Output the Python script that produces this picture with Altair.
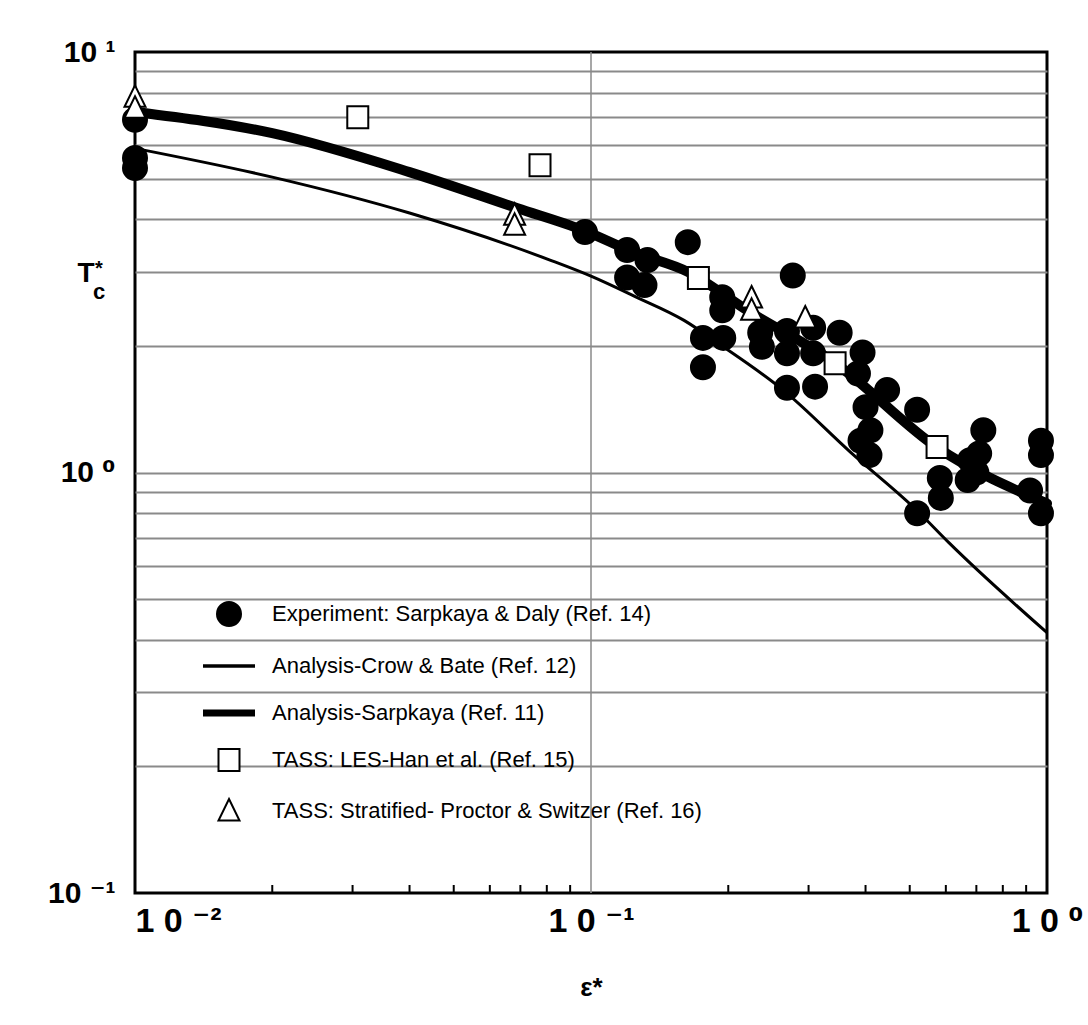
import altair as alt
import pandas as pd

# ---------------- data ----------------
series_names = [
    "Experiment: Sarpkaya & Daly (Ref. 14)",
    "Analysis-Crow & Bate (Ref. 12)",
    "Analysis-Sarpkaya (Ref. 11)",
    "TASS: LES-Han et al. (Ref. 15)",
    "TASS: Stratified- Proctor & Switzer (Ref. 16)",
]

# Experiment: Sarpkaya & Daly (filled circles)
exp_x = [0.01, 0.01, 0.01, 0.097, 0.120, 0.120, 0.131, 0.133, 0.163, 0.277,
         0.194, 0.194, 0.176, 0.195, 0.176, 0.235, 0.237, 0.269, 0.269, 0.269,
         0.307, 0.307, 0.310, 0.351, 0.394, 0.385, 0.446, 0.400, 0.410, 0.390,
         0.408, 0.519, 0.582, 0.585, 0.519, 0.678, 0.670, 0.725, 0.710, 0.700,
         0.970, 0.970, 0.918, 0.970]
exp_y = [5.6, 5.3, 6.9, 3.73, 3.38, 2.91, 2.79, 3.20, 3.53, 2.94,
         2.61, 2.43, 2.09, 2.09, 1.78, 2.15, 1.99, 2.17, 1.92, 1.59,
         2.21, 1.92, 1.60, 2.15, 1.93, 1.72, 1.57, 1.43, 1.26, 1.19,
         1.10, 1.41, 0.97, 0.87, 0.80, 1.07, 0.96, 1.26, 1.11, 1.00,
         1.19, 1.10, 0.906, 0.80]

# TASS: LES-Han et al. (open squares)
les_x = [0.0308, 0.0773, 0.172, 0.343, 0.574]
les_y = [7.0, 5.38, 2.90, 1.82, 1.15]

# TASS: Stratified- Proctor & Switzer (open triangles)
strat_x = [0.01, 0.01, 0.068, 0.068, 0.225, 0.225, 0.295]
strat_y = [7.8, 7.35, 4.09, 3.87, 2.60, 2.43, 2.33]

# Analysis-Crow & Bate (thin line)
crow_x = [0.01, 0.02, 0.04, 0.0813, 0.1, 0.125, 0.16, 0.19, 0.264, 0.37, 0.52, 0.61, 1.0]
crow_y = [5.9, 5.04, 4.14, 3.2, 2.93, 2.62, 2.30, 2.03, 1.57, 1.12, 0.81, 0.68, 0.416]

# Analysis-Sarpkaya (thick line)
sarp_x = [0.01, 0.02, 0.04, 0.069, 0.096, 0.124, 0.163, 0.22, 0.343, 0.574, 1.0]
sarp_y = [7.2, 6.41, 5.18, 4.25, 3.77, 3.34, 3.0, 2.43, 1.82, 1.147, 0.844]

# axis / grid values
x_major = [0.01, 0.1, 1.0]
x_minor = [0.02, 0.03, 0.04, 0.05, 0.06, 0.07, 0.08, 0.09,
           0.2, 0.3, 0.4, 0.5, 0.6, 0.7, 0.8, 0.9]
x_grid = [0.1]
y_grid = [0.1, 0.2, 0.3, 0.4, 0.5, 0.6, 0.7, 0.8, 0.9,
          1.0, 2.0, 3.0, 4.0, 5.0, 6.0, 7.0, 8.0, 9.0, 10.0]

# ---------------- tables ----------------
pts = pd.concat([
    pd.DataFrame({"x": exp_x, "y": exp_y, "series": series_names[0]}),
    pd.DataFrame({"x": les_x, "y": les_y, "series": series_names[3]}),
    pd.DataFrame({"x": strat_x, "y": strat_y, "series": series_names[4]}),
], ignore_index=True)
pts["order"] = range(len(pts))
crow = pd.DataFrame({"x": crow_x, "y": crow_y})
sarp = pd.DataFrame({"x": sarp_x, "y": sarp_y})

# symbol paths (unit coordinates, drawn at size 2500 -> +-25 px)
shape_range = [
    "M-0.48,0A0.48,0.48,0,1,0,0.48,0A0.48,0.48,0,1,0,-0.48,0Z",
    "M-1,-0.03H1V0.03H-1Z",
    "M-1,-0.1H1V0.1H-1Z",
    "M-0.42,-0.44H0.42V0.44H-0.42Z",
    "M0,-0.48L0.42,0.38L-0.42,0.38Z",
]
fill_range = ["black", "black", "black", "white", "white"]
stroke_range = ["black"] * 5

FONT = "Liberation Sans, Arial, DejaVu Sans"
W, H = 912, 841

xs = alt.Scale(type="log", domain=[0.01, 1], nice=False)
ys = alt.Scale(type="log", domain=[0.1, 10], nice=False)

xaxis = alt.Axis(
    values=x_major, grid=False, ticks=False, domain=False,
    labelExpr="datum.value < 0.05 ? '\u00a01 0 \u207b\u00b2' : datum.value < 0.5 ? '1 0 \u207b\u00b9' : '1 0 \u2070'",
    labelFontSize=34, labelFont=FONT, labelFontWeight="bold", labelColor="black",
    labelPadding=11, labelFlush=False,
    labelAlign=alt.condition("datum.value < 0.05", alt.value("left"), alt.value("center")),
    title="\u03b5*", titleFontSize=26, titleFont=FONT, titleFontWeight="bold",
    titleY=94, titleBaseline="middle", titleColor="black",
)
yaxis = alt.Axis(
    values=y_grid, grid=True, ticks=False, domain=False,
    gridColor="#8a8a8a", gridWidth=2,
    gridOpacity=alt.condition("datum.value <= 0.1 || datum.value >= 10", alt.value(0), alt.value(1)),
    labelExpr="datum.value == 1 ? '10 \u2070' : datum.value == 10 ? '10 \u00b9' : datum.value == 0.1 ? '10 \u207b\u00b9' : ''",
    labelFontSize=30, labelFont=FONT, labelFontWeight="bold", labelColor="black",
    labelPadding=20, labelFlush=False, title=None,
)


def X(field):
    return alt.X(field, type="quantitative", scale=xs, axis=xaxis)


def Y(field):
    return alt.Y(field, type="quantitative", scale=ys, axis=yaxis)


vgrid = alt.Chart(pd.DataFrame({"x": x_grid})).mark_rule(color="#8a8a8a", strokeWidth=1.5).encode(
    x=X("x"), y=alt.value(0), y2=alt.value(H)
)
minor_ticks = alt.Chart(pd.DataFrame({"x": x_minor})).mark_rule(color="black", strokeWidth=2).encode(
    x=X("x"), y=alt.value(H), y2=alt.value(H - 8)
)
thick = alt.Chart(sarp).mark_line(
    color="black", strokeWidth=10, strokeCap="round", strokeJoin="round", interpolate="monotone"
).encode(x=X("x"), y=Y("y"))
thin = alt.Chart(crow).mark_line(
    color="black", strokeWidth=3, strokeJoin="round", interpolate="monotone"
).encode(x=X("x"), y=Y("y"))

leg = alt.Legend(
    title=None, orient="none", legendX=68, legendY=536, padding=0,
    symbolSize=2500, symbolStrokeWidth=2, symbolStrokeColor="black",
    labelFontSize=22, labelFont="Liberation Sans Narrow, Liberation Sans, Arial",
    labelColor="black", labelOffset=17, labelLimit=0, rowPadding=10, symbolOffset=0,
)

points = alt.Chart(pts).mark_point(size=2500, strokeWidth=2, opacity=1, fillOpacity=1).encode(
    x=X("x"), y=Y("y"),
    shape=alt.Shape("series:N", scale=alt.Scale(domain=series_names, range=shape_range), legend=leg),
    fill=alt.Fill("series:N", scale=alt.Scale(domain=series_names, range=fill_range), legend=leg),
    stroke=alt.Stroke("series:N", scale=alt.Scale(domain=series_names, range=stroke_range), legend=leg),
    order=alt.Order("order:Q"),
)

t_main = alt.Chart(pd.DataFrame({"t": ["T"]})).mark_text(
    fontSize=28, font=FONT, fontWeight="bold", color="black", baseline="middle", align="center"
).encode(text="t:N", x=alt.value(-49), y=alt.value(222))
t_sup = alt.Chart(pd.DataFrame({"t": ["*"]})).mark_text(
    fontSize=20, font=FONT, fontWeight="bold", color="black", baseline="middle", align="center"
).encode(text="t:N", x=alt.value(-36), y=alt.value(217))
t_sub = alt.Chart(pd.DataFrame({"t": ["c"]})).mark_text(
    fontSize=22, font=FONT, fontWeight="bold", color="black", baseline="middle", align="center"
).encode(text="t:N", x=alt.value(-36), y=alt.value(240))

chart = alt.layer(vgrid, minor_ticks, thin, thick, points, t_main, t_sup, t_sub).properties(
    width=W, height=H,
    padding={"left": 135, "top": 52, "right": 41, "bottom": 132},
    autosize=alt.AutoSizeParams(type="none"),
    background="white",
).configure_view(stroke="black", strokeWidth=3)

chart.save("out.html", embed_options={"renderer": "svg", "actions": False})
